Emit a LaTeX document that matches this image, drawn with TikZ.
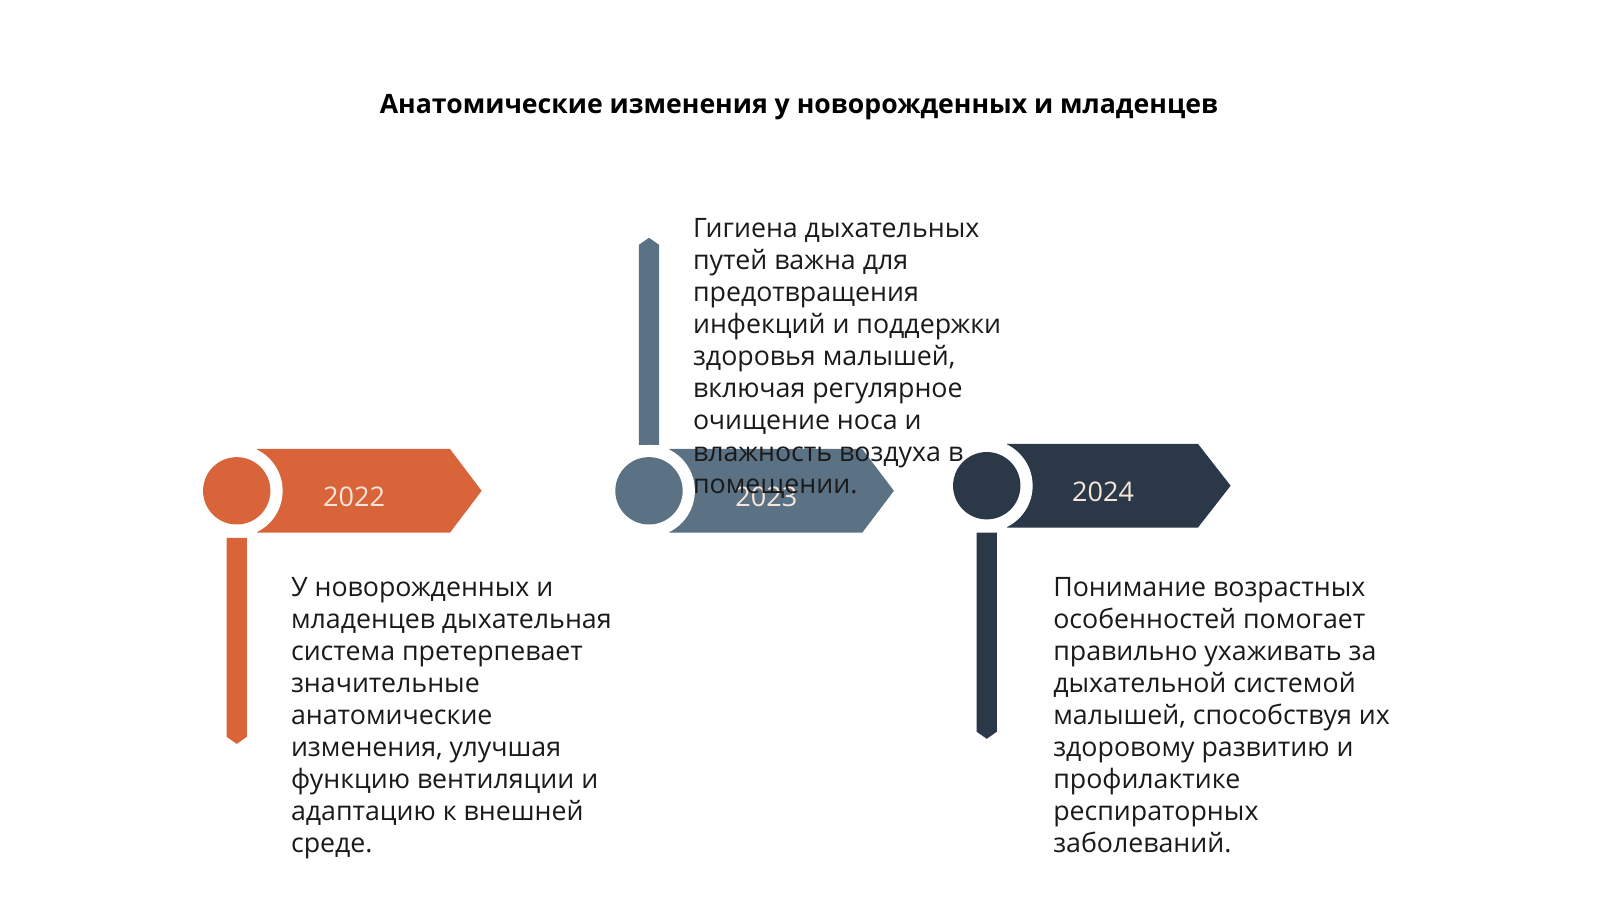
\documentclass[tikz,border=0pt]{standalone}
\usepackage{fontspec}
\setmainfont{Open Sans}
\definecolor{corange}{HTML}{D9643A}
\definecolor{cslate}{HTML}{5B7184}
\definecolor{cdark}{HTML}{2B3848}
\definecolor{ctext}{HTML}{1A1A1A}
\definecolor{cyear}{HTML}{F6E6DA}
\tikzset{
  body/.style={anchor=base west, inner sep=0pt, align=left, text=ctext,
    font=\fontsize{26.2}{31.3}\selectfont},
  year/.style={inner sep=0pt, text=cyear, font=\fontsize{26.5}{30}\selectfont},
  ring/.style={fill=white, draw=none},
}
\begin{document}
\begin{tikzpicture}[x=1pt,y=-1pt]
\useasboundingbox[fill=white] (0,0) rectangle (1568,882);
% title
\node[anchor=base, inner sep=0pt, font=\fontsize{26.1}{30}\selectfont\bfseries, text=black] (title) at (783,111) {Анатомические изменения у новорожденных и младенцев};

% ---------- left (2022)
\fill[corange] (252,440) -- (441,440) -- (472,481) -- (441,522) -- (252,522) -- cycle;
\fill[corange] (222,527) -- (242,527) -- (242,722) -- (232,729) -- (222,722) -- cycle;
\fill[ring] (232,481) circle (45);
\node[circle, fill=corange, minimum size=66pt, inner sep=0pt] (c1) at (232,481) {};
\node[year] (y1) at (347,487) {2022};

% ---------- middle (2023)
\fill[cslate] (656,440) -- (845,440) -- (876,481) -- (845,522) -- (656,522) -- cycle;
\fill[cslate] (626,436) -- (646,436) -- (646,240) -- (636,233) -- (626,240) -- cycle;
\fill[ring] (636,481) circle (45);
\node[circle, fill=cslate, minimum size=66pt, inner sep=0pt] (c2) at (636,481) {};
\node[year] (y2) at (751,487) {2023};

% ---------- right (2024)
\fill[cdark] (987,435) -- (1174,435) -- (1206,476) -- (1174,517) -- (987,517) -- cycle;
\fill[cdark] (957,522) -- (977,522) -- (977,717) -- (967,724) -- (957,717) -- cycle;
\fill[ring] (967,476) circle (45);
\node[circle, fill=cdark, minimum size=66pt, inner sep=0pt] (c3) at (967,476) {};
\node[year] (y3) at (1081,482) {2024};

% texts (base anchor = last line baseline)
\node[body] (t1) at (285,835.4) {У новорожденных и\\младенцев дыхательная\\система претерпевает\\значительные\\анатомические\\изменения, улучшая\\функцию вентиляции и\\адаптацию к внешней\\среде.};
\node[body] (t2) at (679,483.4) {Гигиена дыхательных\\путей важна для\\предотвращения\\инфекций и поддержки\\здоровья малышей,\\включая регулярное\\очищение носа и\\влажность воздуха в\\помещении.};
\node[body] (t3) at (1032,835.4) {Понимание возрастных\\особенностей помогает\\правильно ухаживать за\\дыхательной системой\\малышей, способствуя их\\здоровому развитию и\\профилактике\\респираторных\\заболеваний.};
\end{tikzpicture}
\end{document}
